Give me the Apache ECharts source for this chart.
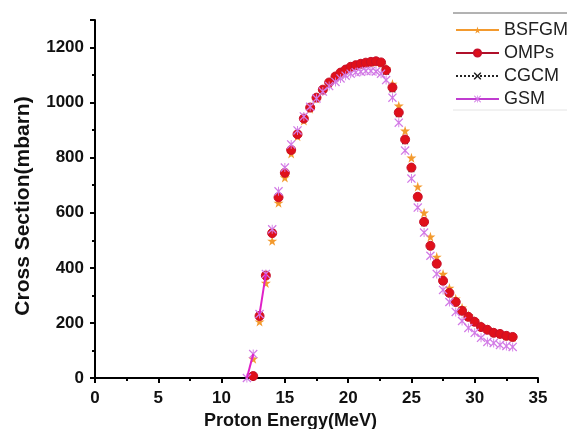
<!DOCTYPE html>
<html>
<head>
<meta charset="utf-8">
<script src="https://cdn.jsdelivr.net/npm/echarts@6/dist/echarts.min.js"></script>
<style>
html,body{margin:0;padding:0;background:#fff;}
#c{width:567px;height:429px;}
</style>
</head>
<body>
<div id="c"></div>
<script>
var energy = [12, 12.5, 13, 13.5, 14, 14.5, 15, 15.5, 16, 16.5, 17, 17.5, 18, 18.5, 19, 19.4, 19.8, 20.2, 20.6, 21, 21.4, 21.8, 22.2, 22.6, 23, 23.5, 24, 24.5, 25, 25.5, 26, 26.5, 27, 27.5, 28, 28.5, 29, 29.5, 30, 30.5, 31, 31.5, 32, 32.5, 33];
var bsfgm = [null, 70, 205, 345, 498, 636, 728, 815, 878, 935, 978, 1015, 1045, 1070, 1092, 1106, 1118, 1128, 1135, 1140, 1144, 1147, 1148, 1145, 1125, 1068, 989, 898, 800, 695, 600, 513, 440, 378, 327, 288, 255, 228, 208, 190, 177, 166, 160, 153, 148];
var omps = [null, 7, 225, 372, 526, 656, 745, 828, 885, 942, 982, 1018, 1047, 1073, 1095, 1109, 1120, 1130, 1136, 1141, 1145, 1148, 1150, 1146, 1118, 1055, 964, 866, 764, 658, 567, 480, 415, 353, 309, 276, 244, 222, 204, 185, 175, 164, 160, 153, 149];
var cgcm = [null, 10, 228, 374, 530, 660, 748, 830, 886, 943, 982, 1017, 1046, 1071, 1093, 1107, 1118, 1128, 1134, 1139, 1143, 1146, 1147, 1142, 1112, 1048, 958, 860, 758, 652, 562, 476, 411, 350, 306, 273, 241, 219, 200, 182, 171, 161, 156, 150, 146];
var gsm = [0, 87, 232, 378, 540, 678, 764, 848, 899, 950, 985, 1015, 1040, 1060, 1075, 1088, 1098, 1105, 1110, 1112, 1115, 1115, 1113, 1105, 1082, 1018, 927, 826, 724, 619, 528, 444, 378, 320, 276, 240, 207, 182, 164, 146, 131, 127, 120, 116, 113];
var xTicks = [0, 5, 10, 15, 20, 25, 30, 35];
var yTicks = [0, 200, 400, 600, 800, 1000, 1200];

function pairs(ys) { return energy.map(function (e, i) { return [e, ys[i]]; }); }
function seg(ys, a, b) { var out = []; for (var i = a; i <= b; i++) out.push([energy[i], ys[i]]); return out; }

var starPath = 'path://M50,0 L61,35 L98,35 L68,57 L79,91 L50,70 L21,91 L32,57 L2,35 L39,35 Z';
var xPath = 'path://M0,0 L3,0 L10,7 L17,0 L20,0 L20,3 L13,10 L20,17 L20,20 L17,20 L10,13 L3,20 L0,20 L0,17 L7,10 L0,3 Z';
var astPath = 'path://M0,2 L2,0 L10,8 L18,0 L20,2 L12,10 L20,18 L18,20 L10,12 L2,20 L0,18 L8,10 Z M9,0 L11,0 L11,20 L9,20 Z';

var font = '"Liberation Sans", Arial, sans-serif';
var chart = echarts.init(document.getElementById('c'), null, {renderer: 'canvas'});
chart.setOption({
  animation: false,
  backgroundColor: '#fff',
  textStyle: {fontFamily: font},
  grid: {left: 95, right: 29, top: 20, bottom: 51, containLabel: false, outerBoundsMode: 'none'},
  legend: {
    orient: 'vertical', left: 455, top: 21, padding: 0,
    itemWidth: 43, itemHeight: 9, itemGap: 5,
    data: ['BSFGM', 'OMPs', 'CGCM', 'GSM'],
    textStyle: {fontSize: 18, color: '#222', fontFamily: font},
    lineStyle: {opacity: 1}
  },
  graphic: [
    {type: 'line', shape: {x1: 453, y1: 13, x2: 567, y2: 13}, style: {stroke: '#666', lineWidth: 1}},
    {type: 'line', shape: {x1: 453, y1: 110, x2: 567, y2: 110}, style: {stroke: '#e4e4e4', lineWidth: 1}}
  ],
  xAxis: {
    type: 'value', min: 0, max: 35, interval: 5,
    name: 'Proton Energy(MeV)', nameLocation: 'middle', nameGap: 32,
    nameTextStyle: {fontSize: 18, fontWeight: 'bold', color: '#111', padding: [0, 52, 0, 0]},
    axisLine: {lineStyle: {color: '#000', width: 2}},
    axisTick: {length: 5, lineStyle: {width: 2, color: '#000'}},
    minorTick: {show: true, splitNumber: 2, length: 3, lineStyle: {width: 2, color: '#000'}},
    splitLine: {show: false},
    axisLabel: {fontSize: 17, fontWeight: 'bold', color: '#111', margin: 12,
      formatter: function (v) { return xTicks.indexOf(v) >= 0 ? String(v) : ''; }}
  },
  yAxis: {
    type: 'value', min: 0, max: 1300, interval: 200,
    name: 'Cross Section(mbarn)', nameLocation: 'middle', nameGap: 61,
    nameTextStyle: {fontSize: 21, fontWeight: 'bold', color: '#111', padding: [0, 14, 0, 0]},
    axisLine: {show: true, lineStyle: {color: '#000', width: 2}},
    axisTick: {show: true, length: 5, lineStyle: {width: 2, color: '#000'}},
    minorTick: {show: true, splitNumber: 2, length: 3, lineStyle: {width: 2, color: '#000'}},
    splitLine: {show: false},
    axisLabel: {fontSize: 17, fontWeight: 'bold', color: '#111', margin: 11, showMaxLabel: false,
      formatter: function (v) { return yTicks.indexOf(v) >= 0 ? String(v) : ''; }}
  },
  series: [
    {name: 'BSFGM', type: 'line', data: pairs(bsfgm), symbol: starPath, symbolSize: 10,
      itemStyle: {color: '#f39a2e'}, lineStyle: {color: '#f39a2e', width: 1.5, opacity: 0}, z: 2},
    {name: 'OMPs', type: 'line', data: pairs(omps), symbol: 'circle', symbolSize: 9,
      itemStyle: {color: '#e0101a', borderColor: '#c8102a', borderWidth: 1}, lineStyle: {color: '#b0102a', width: 1.5, opacity: 0}, z: 3},
    {name: 'CGCM', type: 'line', data: pairs(cgcm), symbol: xPath, symbolSize: 6,
      itemStyle: {color: '#222'}, lineStyle: {color: '#222', width: 1.5, type: 'dotted', opacity: 0}, z: 1},
    {name: 'GSM', type: 'line', data: pairs(gsm), symbol: astPath, symbolSize: 9,
      itemStyle: {color: '#d27ae6'}, lineStyle: {color: '#c03cd0', width: 1.5, opacity: 0}, z: 4},
    {type: 'line', data: seg(gsm, 0, 1), symbol: 'none', silent: true, lineStyle: {color: '#e020c8', width: 2}, z: 5},
    {type: 'line', data: seg(gsm, 2, 3), symbol: 'none', silent: true, lineStyle: {color: '#e020c8', width: 2}, z: 5}
  ]
});
</script>
</body>
</html>
